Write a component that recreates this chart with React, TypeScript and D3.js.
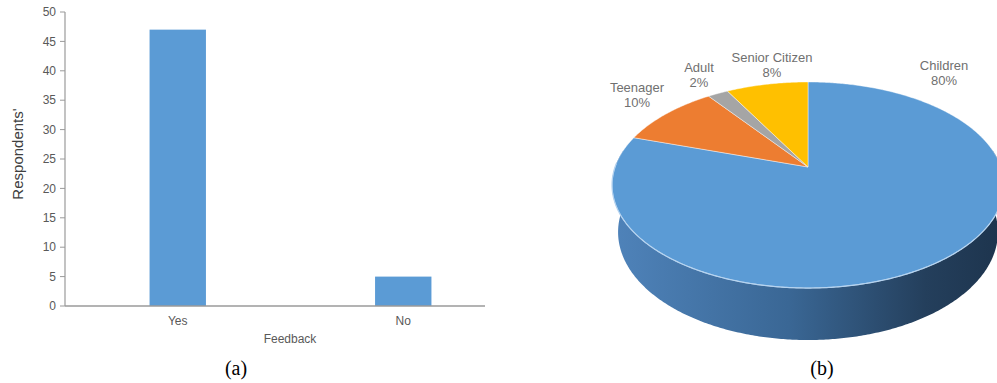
import React from "react";
import * as d3 from "d3";

const feedbackCategories = ["Yes", "No"];
const feedbackValues = [47, 5];
const yTicks = [0, 5, 10, 15, 20, 25, 30, 35, 40, 45, 50];

const ageGroups = ["Children", "Teenager", "Adult", "Senior Citizen"];
const agePercents = [80, 10, 2, 8];
const ageColors = ["#5B9BD5", "#ED7D31", "#A5A5A5", "#FFC000"];

const W = 997;
const H = 383;

// perspective parameters for the 3D pie (unit radius)
const CX = 808;
const CY = 167;
const F = 944;
const DIST = 4.892;
const SA = 0.5176;
const CA = 0.855;
const THICK = 0.2924;

function proj(theta: number, r: number, Y: number): [number, number] {
  const u = r * Math.sin(theta);
  const v = -r * Math.cos(theta);
  const yc = v * SA - Y * CA;
  const depth = DIST - (v * CA + Y * SA);
  return [CX + (F * u) / depth, CY + (F * yc) / depth];
}

function arcPoints(a0: number, a1: number, Y: number): [number, number][] {
  const n = Math.max(2, Math.ceil(Math.abs(a1 - a0) / 0.01));
  const pts: [number, number][] = [];
  for (let i = 0; i <= n; i++) {
    const t = a0 + ((a1 - a0) * i) / n;
    pts.push(proj(t, 1, Y));
  }
  return pts;
}

export default function App() {
  // ---------- bar chart ----------
  const y = d3.scaleLinear().domain([0, 50]).range([306, 12]);
  const x = d3
    .scaleBand<string>()
    .domain(feedbackCategories)
    .range([65, 516])
    .paddingInner(0.75)
    .paddingOuter(0.375);
  const axisColor = "#9a9a9a";
  const labelColor = "#595959";

  // ---------- pie ----------
  const pie = d3
    .pie<number>()
    .sort(null)
    .startAngle(0)
    .endAngle(2 * Math.PI);
  const arcs = pie(agePercents);
  const line = d3.line();

  const wallTop = arcPoints((80 * Math.PI) / 180, (280 * Math.PI) / 180, 0);
  const wallBottom = arcPoints((280 * Math.PI) / 180, (80 * Math.PI) / 180, -THICK);
  const wallPath = line([...wallTop, ...wallBottom]) + "Z";
  const frontEdge = line(arcPoints((88 * Math.PI) / 180, (272 * Math.PI) / 180, 0));

  const pieLabels = [
    { x: 944, y: 70 },
    { x: 637, y: 92 },
    { x: 699, y: 72 },
    { x: 772, y: 62 },
  ];

  return (
    <svg
      width={W}
      height={H}
      style={{ position: "absolute", left: 0, top: 0, background: "#fff" }}
      fontFamily="Arial, 'Liberation Sans', sans-serif"
    >
      <defs>
        <linearGradient id="wallGrad" gradientUnits="userSpaceOnUse" x1={612} y1={0} x2={1004} y2={0}>
          <stop offset="0" stopColor="#4f83ba" />
          <stop offset="0.45" stopColor="#3a6795" />
          <stop offset="0.8" stopColor="#243f5c" />
          <stop offset="1" stopColor="#1d344d" />
        </linearGradient>
      </defs>

      {/* bar chart */}
      <g>
        {yTicks.map((t) => (
          <g key={t}>
            <line x1={60} x2={65} y1={y(t)} y2={y(t)} stroke={axisColor} strokeWidth={1} />
            <text x={56} y={y(t)} dy="0.35em" textAnchor="end" fontSize={12} fill={labelColor}>
              {t}
            </text>
          </g>
        ))}
        {feedbackCategories.map((c, i) => (
          <rect
            key={c}
            x={x(c)}
            y={y(feedbackValues[i])}
            width={x.bandwidth()}
            height={y(0) - y(feedbackValues[i])}
            fill="#5B9BD5"
          />
        ))}
        <line x1={65} x2={65} y1={y(50)} y2={y(0)} stroke={axisColor} strokeWidth={1.2} />
        <line x1={65} x2={485} y1={y(0)} y2={y(0)} stroke={axisColor} strokeWidth={1.5} />
        {feedbackCategories.map((c) => (
          <text
            key={c}
            x={(x(c) as number) + x.bandwidth() / 2}
            y={325}
            textAnchor="middle"
            fontSize={12}
            fill={labelColor}
          >
            {c}
          </text>
        ))}
        <text x={290} y={343} textAnchor="middle" fontSize={12} fill={labelColor}>
          Feedback
        </text>
        <text
          transform="translate(23,154) rotate(-90)"
          textAnchor="middle"
          fontSize={15}
          fill="#404040"
        >
          Respondents'
        </text>
        <text x={236} y={375} textAnchor="middle" fontSize={20} fontFamily="'Liberation Serif', 'Times New Roman', serif" fill="#000">
          (a)
        </text>
      </g>

      {/* 3D pie */}
      <g>
        <path d={wallPath} fill="url(#wallGrad)" />
        {arcs.map((a, i) => {
          const pts: [number, number][] = [[CX, CY], ...arcPoints(a.startAngle, a.endAngle, 0)];
          return (
            <path
              key={ageGroups[i]}
              d={line(pts) + "Z"}
              fill={ageColors[i]}
              stroke="#ffffff"
              strokeOpacity={0.55}
              strokeWidth={0.8}
              strokeLinejoin="round"
            />
          );
        })}
        <path d={frontEdge || ""} fill="none" stroke="#b5d3f0" strokeWidth={1.2} />
        {ageGroups.map((g, i) => (
          <text key={g} textAnchor="middle" fontSize={13} fill="#707070">
            <tspan x={pieLabels[i].x} y={pieLabels[i].y}>
              {g}
            </tspan>
            <tspan x={pieLabels[i].x} y={pieLabels[i].y + 15}>
              {agePercents[i]}%
            </tspan>
          </text>
        ))}
        <text x={822} y={375} textAnchor="middle" fontSize={20} fontFamily="'Liberation Serif', 'Times New Roman', serif" fill="#000">
          (b)
        </text>
      </g>
    </svg>
  );
}
